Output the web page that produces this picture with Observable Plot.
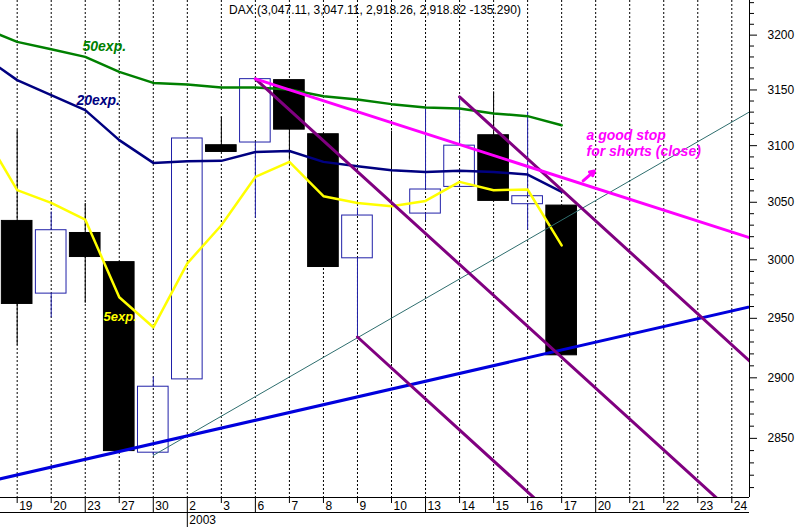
<!DOCTYPE html>
<html><head><meta charset="utf-8">
<script src="https://cdn.jsdelivr.net/npm/d3@7"></script>
<script src="https://cdn.jsdelivr.net/npm/@observablehq/plot@0.6"></script>
<style>body{margin:0;background:#fff;} svg{display:block;}</style>
</head><body><div id="chart"></div>
<script>
// ---- data ----
const dayLabels = ["19","20","23","27","30","2","3","6","7","8","9","10","13","14","15","16","17","20","21","22","23","24"];
const mondays = [2, 4, 7, 12, 17];      // week starts (full ticks)
const yearStart = 5;                     // 2 Jan 2003
const yearLabel = "2003";
const titleText = "DAX (3,047.11, 3,047.11, 2,918.26, 2,918.82 -135.290)";

const open  = [3033.7, 2971.0, 3023.2, 2998.0, 2838.3, 2898.7, 3100.4, 3102.8, 3158.9, 3110.2, 3001.3, 3038.4, 3040.1, 3063.5, 3109.3, 3048.3, 3047.11];
const high  = [3113.8, 3041.5, 3048.9, 2998.0, 2900.6, 3106.4, 3125.4, 3160.0, 3158.9, 3110.2, 3044.8, 3113.0, 3134.5, 3143.7, 3148.3, 3130.0, 3047.11];
const low   = [2927.2, 2950.5, 2962.8, 2839.6, 2836.1, 2898.7, 3094.4, 3036.0, 3087.1, 2993.8, 2934.2, 2912.0, 3034.0, 3063.5, 3051.2, 3025.6, 2918.26];
const close = [2962.2, 3025.6, 3002.4, 2839.6, 2892.6, 3106.4, 3094.4, 3159.8, 3114.3, 2993.8, 3038.4, 3038.4, 3061.2, 3100.0, 3051.2, 3055.3, 2918.82];

// moving averages, first value is the session before "19"
const ema5  = [3112.0, 3060.6, 3049.4, 3034.9, 2967.9, 2942.4, 2997.0, 3029.9, 3072.3, 3085.6, 3055.3, 3049.4, 3046.5, 3051.2, 3067.9, 3060.6, 3061.2, 3012.5];
const ema20 = [3180.7, 3158.9, 3145.3, 3131.8, 3104.9, 3084.7, 3086.2, 3086.5, 3094.4, 3095.3, 3085.6, 3081.7, 3078.2, 3076.7, 3077.7, 3076.7, 3074.4, 3059.1];
const ema50 = [3206.4, 3193.8, 3187.1, 3180.1, 3166.4, 3156.4, 3155.0, 3152.3, 3152.3, 3150.4, 3144.4, 3141.4, 3137.2, 3134.2, 3133.3, 3128.8, 3126.4, 3118.3];

// trend lines: [start, end] as (session index, value)
const stopLineX = [7, 22],  stopLineY = [3160.0, 3014.6];
const chanAX = [7, 21],     chanAY = [3160.0, 2790.5];
const chanBX = [10, 16],    chanBY = [2934.2, 2781.6];
const chanCX = [13, 22],    chanCY = [3143.7, 2901.7];
const supportX = [-1, 22],  supportY = [2813.9, 2962.9];
const thinX = [4, 22],      thinY = [2836.1, 3138.7];

const majorTicks = [2850, 2900, 2950, 3000, 3050, 3100, 3150, 3200];
const minorTicks = d3.range(2810, 3240, 10).filter(v => v % 50 !== 0);

// annotations
const labels = [
  {text: "50exp.", x: 1.92, y: 3189.9, color: "#008000", size: 14},
  {text: "20exp.", x: 1.74, y: 3140.8, color: "#000080", size: 14},
  {text: "5exp.",  x: 2.54, y: 2950.9, color: "#ffff00", size: 13},
  {text: "a good stop", x: 16.73, y: 3109.3, color: "#ff00ff", size: 14},
  {text: "for shorts (close)", x: 16.73, y: 3094.4, color: "#ff00ff", size: 14}
];
const arrowAnno = [{x1: 16.63, y1: 3068.8, x2: 16.96, y2: 3077.5}];

// ---- build ----
const xDomain = [-0.49, 21.52];
const yDomain = [2802, 3232];
const idx = dayLabels.map((d, i) => i);
const candles = open.map((o, i) => ({i, o, h: high[i], l: low[i], c: close[i]}));
const up = candles.filter(d => d.c > d.o);
const down = candles.filter(d => !(d.c > d.o));
const blue = "#2020a8";
const hw = 0.45;
const seg = (xs, ys) => xs.map((x, k) => ({x, y: ys[k]}));
const maLine = (arr) => arr.map((v, k) => ({x: k - 1, y: v}));
const shortTicks = idx.filter(i => !mondays.includes(i) && i !== yearStart);

const plot = Plot.plot({
  width: 797, height: 527,
  marginTop: 0, marginRight: 48, marginBottom: 30, marginLeft: 0,
  style: {fontFamily: "'Liberation Sans', Arial, sans-serif", fontSize: "12px", background: "#fff", color: "#000", overflow: "visible"},
  x: {type: "linear", domain: xDomain},
  y: {type: "log", domain: yDomain},
  marks: [
    Plot.ruleX(idx, {x: d => d, stroke: "#000", strokeDasharray: "2,2", strokeWidth: 1}),
    // candles
    Plot.ruleX(down, {x: "i", y1: "l", y2: "h", stroke: "#000", clip: true}),
    Plot.ruleX(up, {x: "i", y1: "h", y2: d => Math.max(d.o, d.c), stroke: blue, clip: true}),
    Plot.ruleX(up, {x: "i", y1: d => Math.min(d.o, d.c), y2: "l", stroke: blue, clip: true}),
    Plot.rect(down, {x1: d => d.i - hw, x2: d => d.i + hw, y1: "o", y2: "c", fill: "#000", stroke: "#000", clip: true}),
    Plot.rect(up, {x1: d => d.i - hw, x2: d => d.i + hw, y1: "o", y2: "c", fill: "none", stroke: blue, clip: true}),
    // moving averages
    Plot.line(maLine(ema50), {x: "x", y: "y", stroke: "#008000", strokeWidth: 2.5, clip: true}),
    Plot.line(maLine(ema20), {x: "x", y: "y", stroke: "#000080", strokeWidth: 2.5, clip: true}),
    Plot.line(maLine(ema5), {x: "x", y: "y", stroke: "#ffff00", strokeWidth: 2.5, clip: true}),
    // trend lines
    Plot.line(seg(thinX, thinY), {x: "x", y: "y", stroke: "#2e6e6e", strokeWidth: 1, clip: true}),
    Plot.line(seg(supportX, supportY), {x: "x", y: "y", stroke: "#0000dd", strokeWidth: 3, clip: true}),
    Plot.line(seg(chanAX, chanAY), {x: "x", y: "y", stroke: "#800080", strokeWidth: 3, clip: true}),
    Plot.line(seg(chanBX, chanBY), {x: "x", y: "y", stroke: "#800080", strokeWidth: 3, clip: true}),
    Plot.line(seg(chanCX, chanCY), {x: "x", y: "y", stroke: "#800080", strokeWidth: 3, clip: true}),
    Plot.line(seg(stopLineX, stopLineY), {x: "x", y: "y", stroke: "#ff00ff", strokeWidth: 3, clip: true}),
    Plot.arrow(arrowAnno, {x1: "x1", y1: "y1", x2: "x2", y2: "y2", stroke: "#ff00ff", strokeWidth: 3, headLength: 7}),
    // annotations
    Plot.text(labels, {x: "x", y: "y", text: "text", fill: d => d.color, fontSize: d => d.size, fontWeight: "bold", fontStyle: "italic", textAnchor: "start", lineAnchor: "middle"}),
    Plot.text([titleText], {text: d => d, frameAnchor: "top", dy: 10, lineAnchor: "middle", fontSize: 12, fill: "#000"}),
    // frame lines
    Plot.ruleX([xDomain[1]], {stroke: "#000"}),
    Plot.ruleY([yDomain[0]], {stroke: "#000"}),
    Plot.ruleY([yDomain[0]], {stroke: "#000", dy: 15}),
    // right axis
    Plot.axisY(majorTicks, {anchor: "right", tickSize: 7, tickPadding: 11, fontSize: 12, label: null, tickFormat: d => String(d)}),
    Plot.axisY(minorTicks, {anchor: "right", tickSize: 4, label: null, tickFormat: () => ""}),
    // bottom axis
    Plot.axisX(shortTicks, {anchor: "bottom", tickSize: 6, label: null, tickFormat: () => ""}),
    Plot.axisX(mondays, {anchor: "bottom", tickSize: 15, label: null, tickFormat: () => ""}),
    Plot.axisX([yearStart], {anchor: "bottom", tickSize: 30, label: null, tickFormat: () => ""}),
    Plot.text(idx, {x: d => d, text: d => dayLabels[d], frameAnchor: "bottom", dy: 9, dx: 2, textAnchor: "start", lineAnchor: "middle", fontSize: 12, fill: "#000"}),
    Plot.text([yearStart], {x: d => d, text: () => yearLabel, frameAnchor: "bottom", dy: 23, dx: 2, textAnchor: "start", lineAnchor: "middle", fontSize: 12, fill: "#000"})
  ]
});
document.getElementById("chart").appendChild(plot);
</script>
</body></html>
